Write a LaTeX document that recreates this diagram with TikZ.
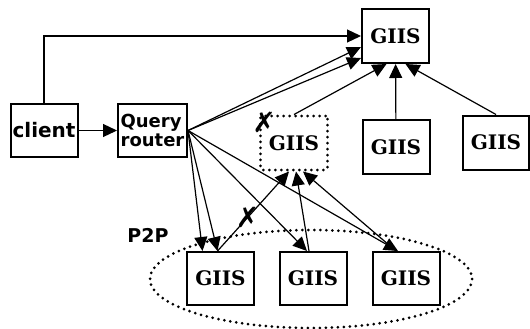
\documentclass[tikz,border=0pt]{standalone}
\usepackage{fontspec}
\usepackage{tikz}
\usetikzlibrary{arrows.meta}
\newfontfamily\labelfont{DejaVu Sans}
\newfontfamily\giisfont{DejaVu Serif}

\begin{document}
\begin{tikzpicture}[
  x=1pt,y=-1pt,
  box/.style={draw,line width=2pt,fill=white,inner sep=0pt,minimum width=67pt,minimum height=54pt,align=center},
  giis/.style={box,font=\giisfont\bfseries\fontsize{20}{20}\selectfont},
  failed/.style={giis,line width=3pt,dash pattern=on 0pt off 6pt,line cap=round,rounded corners=2pt},
  agent/.style={box,minimum height=53pt,font=\labelfont\bfseries\fontsize{18}{19}\selectfont},
  arrow/.style={-{Triangle[length=14pt,width=13pt]},line width=1.2pt},
  cut/.style={font=\labelfont\bfseries\fontsize{28}{28}\selectfont,inner sep=0pt},
  ring/.style={line width=3pt,dash pattern=on 0pt off 6pt,line cap=round}
]
  \useasboundingbox (0,0) rectangle (530,329);

  \draw[ring] (311,279) ellipse [x radius=161,y radius=49];
  \node[font=\labelfont\bfseries\fontsize{19}{19}\selectfont] (p2p) at (148,235) {P2P};

  \node[agent,font=\labelfont\bfseries\fontsize{20}{20}\selectfont] (client) at (44,130.5) {client};
  \node[agent,minimum width=69pt,align=left] (router) at (152.5,130.5) {Query\\router};
  \node[giis] (top) at (395.5,36) {GIIS};
  \node[failed] (dead) at (294,143) {GIIS};
  \node[giis] (mid) at (396,147) {GIIS};
  \node[giis,minimum width=66pt] (far) at (496,142.5) {GIIS};
  \node[giis,minimum height=53pt] (g1) at (220.5,278.5) {GIIS};
  \node[giis,minimum height=53pt] (g2) at (313,278.5) {GIIS};
  \node[giis,minimum height=53pt] (g3) at (406,278.5) {GIIS};

  \draw[arrow] (client.north) |- (top.west);
  \draw[arrow] (client) -- (router);
  \draw[arrow] (router.east) -- ([yshift=-11pt]top.west);
  \draw[arrow] (router.east) -- ([yshift=-22pt]top.west);
  \draw[arrow] (router.east) -- ([xshift=-18pt]g1.north);
  \draw[arrow] (router.east) -- ([xshift=-3pt]g1.north);
  \draw[arrow] (router.east) -- ([xshift=-6pt]g2.north);
  \draw[arrow] (router.east) -- ([xshift=-8pt]g3.north);
  \draw[arrow] (dead.north) -- ([xshift=-9pt]top.south);
  \draw[arrow] (mid) -- (top);
  \draw[arrow] (far.north) -- ([xshift=10pt]top.south);
  \draw[arrow] ([xshift=-3pt]g1.north) -- node[cut,pos=0.42] (x1) {✗} ([xshift=-5pt]dead.south);
  \draw[arrow] ([xshift=-4pt]g2.north) -- ([xshift=2pt]dead.south);
  \draw[arrow] ([xshift=-10pt]g3.north) -- ([xshift=9pt]dead.south);
  \node[cut] (x2) at ([xshift=5pt,yshift=-8pt]dead.north west) {✗};
\end{tikzpicture}
\end{document}
